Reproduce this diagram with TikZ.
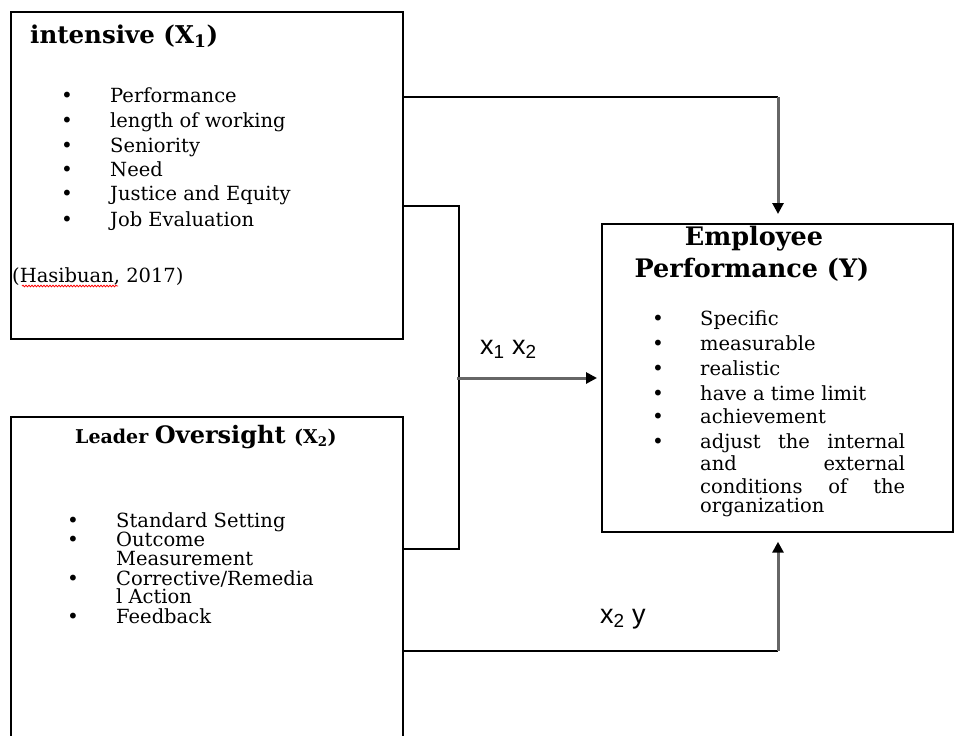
\documentclass[tikz,border=0pt]{standalone}
\usepackage{fontspec}
\setmainfont{DejaVu Serif}
\newfontfamily\sansfont{Liberation Sans}
\usetikzlibrary{arrows.meta, calc, positioning, decorations.pathmorphing}

\begin{document}
\begin{tikzpicture}[x=1pt,y=-1pt,
  box/.style={draw, line width=1.7pt, inner sep=0pt, anchor=north west},
  item/.style={anchor=base west, inner sep=0pt, font=\fontsize{19.5}{22}\selectfont},
  dot/.style={anchor=base, inner sep=0pt, font=\fontsize{20}{22}\selectfont},
  head/.style={inner sep=0pt, font=\bfseries\fontsize{25.5}{28}\selectfont},
  link/.style={line width=1.6pt},
  flow/.style={draw=gray!80!black, line width=3pt, -{Triangle[length=11pt,width=11pt,color=black]}},
  tag/.style={anchor=base west, inner sep=0pt, font=\sansfont\fontsize{27}{30}\selectfont}]

\useasboundingbox (0,0) rectangle (956,736);
\fill[white] (0,0) rectangle (956,736);

% the three boxes
\node[box, minimum width=392pt, minimum height=327pt] (incentive) at (10,11) {};
\node[box, minimum width=392pt, minimum height=335pt] (oversight) at (10,416) {};
\node[box, minimum width=351pt, minimum height=308pt] (employee) at (601,223) {};

% box X1
\node[head, anchor=base west, font=\bfseries\fontsize{24.5}{28}\selectfont] (incTitle) at (30,43) {intensive (X\textsubscript{1})};
\foreach \y/\txt [count=\i] in {102/Performance, 127/length of working, 152/Seniority,
                               176/Need, 200/Justice and Equity, 226/Job Evaluation}{
  \node[dot] (incDot\i) at (67,\y) {\textbullet};
  \node[item] (incItem\i) at (110,\y) {\txt};
}
\node[item] (source) at (12,282) {(Hasibuan, 2017)};
\draw[red, line width=0.8pt, decorate, decoration={snake, amplitude=0.8pt, segment length=3pt}]
  ($(source.base west)+(10,4)$) -- ($(source.base west)+(106,4)$);

% box X2
\node[anchor=base west, inner sep=0pt, font=\bfseries] (ovTitle) at (75,443)
  {{\fontsize{19}{20}\selectfont Leader }{\fontsize{24}{26}\selectfont Oversight }{\fontsize{19}{20}\selectfont (X\textsubscript{2})}};
\foreach \y [count=\i] in {527,546,585,623}
  \node[dot] (ovDot\i) at (73,\y) {\textbullet};
\foreach \y/\txt [count=\i] in {527/Standard Setting, 546/Outcome, 565/Measurement,
                               585/Corrective\slash Remedia, 603/l Action, 623/Feedback}
  \node[item] (ovItem\i) at (116,\y) {\txt};

% box Y
\node[head, anchor=base] (empTitleA) at (754,245) {Employee};
\node[head, anchor=base] (empTitleB) at (752,277) {Performance (Y)};
\foreach \y [count=\i] in {325,350,375,400,423,448}
  \node[dot] (empDot\i) at (658,\y) {\textbullet};
\foreach \y/\txt [count=\i] in {325/Specific, 350/measurable, 375/realistic,
                               400/have a time limit, 423/achievement}
  \node[item] (empItem\i) at (700,\y) {\txt};
\foreach \y/\txt [count=\i from 6] in {448/adjust the internal, 470/and external, 493/conditions of the}
  \node[item] (empItem\i) at (700,\y) {\makebox[205pt][s]{\txt}};
\node[item] (empItem9) at (700,512) {organization};

% connectors
\path coordinate (jTop) at (778,97)
      coordinate (jUp) at (459,206)
      coordinate (jLow) at (459,549)
      coordinate (jMid) at (457,378)
      coordinate (jBot) at (778,651);
\draw[link] (incentive.east |- jTop) -- (jTop);
\draw[flow, shorten >=9pt] (jTop) -- (employee.north -| jTop);
\draw[link] (incentive.east |- jUp) -- (jUp) -- (jLow) -- (oversight.east |- jLow);
\draw[flow, shorten >=4pt] (jMid) -- (employee.west |- jMid);
\draw[link] (oversight.east |- jBot) -- (jBot);
\draw[flow, shorten >=9pt] (jBot) -- (employee.south -| jBot);
\node[tag] (lblA) at (480,354) {x\textsubscript{1} x\textsubscript{2}};
\node[tag] (lblB) at (600,623) {x\textsubscript{2} y};
\end{tikzpicture}
\end{document}
